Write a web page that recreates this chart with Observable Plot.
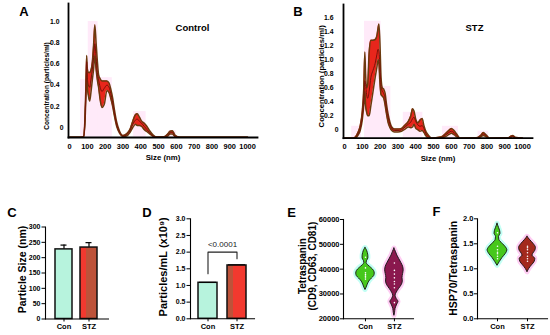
<!DOCTYPE html>
<html><head><meta charset="utf-8">
<script src="https://cdn.jsdelivr.net/npm/d3@7"></script>
<script src="https://cdn.jsdelivr.net/npm/@observablehq/plot@0.6"></script>
<style>
body{margin:0;background:#fff}
#fig{position:relative;width:550px;height:335px;overflow:hidden;background:#fff}
.p{position:absolute}
</style>
</head><body><div id="fig"></div>
<script>
// ---------- Panel A: Control size distribution ----------
const ctlSize = [0,60,78,86,92,96,100,106,113,120,128,135,142,149,156,163,172,182,195,210,222,232,242,252,265,280,300,320,340,355,370,380,392,405,420,435,450,470,490,530,552,565,578,592,620,1000];
const ctlMean = [-0.092,-0.092,-0.09,0.05,0.35,0.62,0.47,0.40,0.38,0.45,0.55,0.66,0.79,0.66,0.52,0.45,0.38,0.34,0.37,0.40,0.38,0.32,0.24,0.14,0.03,-0.04,-0.08,-0.07,-0.03,0.03,0.07,0.08,0.06,0.04,0.01,-0.02,-0.05,-0.08,-0.092,-0.09,-0.07,-0.05,-0.045,-0.08,-0.092,-0.092];
const ctlLo = [-0.092,-0.092,-0.092,0.03,0.30,0.55,0.38,0.30,0.25,0.33,0.45,0.55,0.68,0.55,0.45,0.38,0.26,0.19,0.22,0.35,0.33,0.27,0.20,0.11,0.01,-0.05,-0.085,-0.08,-0.045,0.0,0.03,0.02,0.02,0.01,-0.02,-0.04,-0.06,-0.085,-0.092,-0.092,-0.08,-0.06,-0.06,-0.085,-0.092,-0.092];
const ctlHi = [-0.092,-0.092,-0.088,0.07,0.40,0.68,0.55,0.52,0.52,0.54,0.62,0.78,0.97,0.80,0.63,0.50,0.46,0.44,0.44,0.44,0.42,0.36,0.28,0.17,0.05,-0.03,-0.075,-0.06,-0.015,0.06,0.12,0.13,0.10,0.06,0.04,0.01,-0.03,-0.07,-0.09,-0.088,-0.06,-0.035,-0.03,-0.07,-0.092,-0.092];
const ctlShadeFrom = [62,105,160,360,560];
const ctlShadeTo   = [105,160,240,430,600];
const ctlShadeTop  = [0.45,1.0,0.47,0.15,-0.03];

// ---------- Panel B: STZ size distribution ----------
const stzSize = [0,50,62,75,88,100,108,114,118,124,130,138,148,160,172,182,188,193,198,205,212,220,228,236,245,255,265,280,300,320,340,358,372,382,390,400,412,424,436,446,458,472,490,520,545,565,585,600,615,630,650,740,765,780,795,815,920,935,945,958,1000];
const stzMean = [-0.12,-0.12,-0.11,-0.06,0.02,0.2,0.45,0.7,0.65,0.5,0.45,0.55,0.75,0.85,0.95,1.08,1.15,1.12,0.95,0.62,0.55,0.52,0.45,0.30,0.18,0.08,0.02,-0.01,-0.01,0.0,0.04,0.08,0.11,0.16,0.18,0.12,0.07,0.05,0.06,0.02,-0.06,-0.1,-0.12,-0.12,-0.11,-0.08,-0.04,-0.02,-0.04,-0.08,-0.12,-0.12,-0.09,-0.06,-0.08,-0.12,-0.12,-0.1,-0.09,-0.11,-0.12];
const stzLo = [-0.12,-0.12,-0.12,-0.08,-0.01,0.15,0.35,0.55,0.35,0.25,0.2,0.2,0.35,0.55,0.75,0.9,1.0,0.95,0.7,0.5,0.48,0.45,0.35,0.22,0.1,0.03,-0.01,-0.03,-0.03,-0.02,0.01,0.04,0.03,0.04,0.08,0.02,0.0,-0.02,-0.01,-0.04,-0.09,-0.12,-0.12,-0.12,-0.115,-0.1,-0.07,-0.05,-0.07,-0.1,-0.12,-0.12,-0.1,-0.08,-0.1,-0.12,-0.12,-0.11,-0.1,-0.115,-0.12];
const stzHi = [-0.12,-0.12,-0.10,-0.04,0.06,0.28,0.6,1.11,0.8,0.6,0.65,1.1,1.28,1.28,1.29,1.35,1.45,1.51,1.3,0.75,0.6,0.58,0.52,0.36,0.22,0.11,0.04,0.01,0.01,0.02,0.07,0.12,0.2,0.3,0.27,0.15,0.1,0.14,0.16,0.06,-0.03,-0.08,-0.12,-0.11,-0.1,-0.06,-0.01,0.02,-0.01,-0.06,-0.12,-0.115,-0.08,-0.04,-0.07,-0.12,-0.115,-0.09,-0.08,-0.105,-0.12];
const stzShadeFrom = [40,112,205,330,550,750];
const stzShadeTo   = [95,205,260,440,640,810];
const stzShadeTop  = [0.05,1.55,0.62,0.25,0.05,-0.02];

const sizeTicks = [0,100,200,300,400,500,600,700,800,900,1000];
const ctlYTicks = [0.2,0.4,0.6,0.8,1.0];
const stzYTicks = [0.2,0.4,0.6,0.8,1.0,1.2,1.4,1.6];

// ---------- Panels C and D: bars ----------
const groups = ["Con","STZ"];
const sizeMean = [227, 233];
const sizeSD = [14, 16];
const countMean = [1.08, 1.6];
const countSD = [0.015, 0.02];
const cTicks = [0,50,100,150,200,250,300];
const dTicks = [0,0.5,1.0,1.5,2.0,2.5,3.0];
const bracketLeft = 1.35, bracketTop = 2.0, bracketRight = 1.8, pLabel = "<0.0001";

// ---------- Panels E and F: violins (value, half-width) ----------
const groupPos = [1, 2];
const eConV = [48500,47800,46500,45200,44300,43200,42500,41500,40500,39200,38200,37200,36200,35000,33500,32300,31600];
const eConW = [0,0.04,0.08,0.1,0.1,0.05,0.04,0.1,0.2,0.3,0.32,0.3,0.22,0.13,0.07,0.03,0];
const eStzV = [48300,47000,45500,44000,42500,41000,39500,38000,36500,35000,33500,32000,30500,29300,28000,26800,25800,24000,22200,21200];
const eStzW = [0,0.05,0.1,0.17,0.24,0.3,0.32,0.3,0.28,0.29,0.25,0.16,0.08,0.04,0.08,0.14,0.1,0.04,0.02,0];
const eConPts = [44800,40500,38500,37800,37200,36800,36000];
const eStzPts = [42500,39500,38000,36500,35000,34000,32500,26500];
const eTicks = [20000,30000,40000,50000,60000];

const fConV = [1.9,1.82,1.75,1.70,1.64,1.58,1.5,1.43,1.37,1.3,1.22,1.14,1.06];
const fConW = [0,0.05,0.09,0.1,0.05,0.06,0.17,0.28,0.33,0.28,0.17,0.08,0];
const fStzV = [1.64,1.58,1.5,1.42,1.36,1.3,1.26,1.2,1.14,1.07,1.0,0.93];
const fStzW = [0,0.08,0.2,0.28,0.26,0.19,0.17,0.26,0.24,0.15,0.06,0];
const fConPts = [1.72,1.45,1.38,1.33,1.3,1.25,1.2];
const fStzPts = [1.45,1.42,1.38,1.32,1.25,1.2,1.15];
const fTicks = [0,0.5,1.0,1.5,2.0];

// ---------- helpers ----------
const FONT = "'Liberation Sans', Arial, Helvetica, sans-serif";
const fig = document.getElementById("fig");
function panel(opts, left, top) {
  const svg = Plot.plot({...opts, style: {fontFamily: FONT, fontWeight: "bold", background: "none", overflow: "visible", color: "#000"}});
  const d = document.createElement("div");
  d.className = "p"; d.style.left = left + "px"; d.style.top = top + "px";
  d.appendChild(svg); fig.appendChild(d);
}
const zip4 = (s, m, l, h) => s.map((v, i) => ({size: v, mean: m[i], lo: l[i], hi: h[i]}));
const shades = (a, b, t) => a.map((v, i) => ({from: v, to: b[i], top: t[i]}));
const prof = (v, w, c) => v.map((y, i) => ({v: y, x1: c - w[i], x2: c + w[i]}));
const pts = (arr, c) => arr.map(v => ({g: c, v}));
const curve = "monotone-x";
const yLabel = (s, dx, dy, fontSize, extra = {}) =>
  Plot.text([s], {text: d => d, frameAnchor: "left", rotate: -90, dx, dy, fontSize, textAnchor: "middle", lineAnchor: "middle", ...extra});
const letter = (s, dx, dy) =>
  Plot.text([s], {text: d => d, frameAnchor: "top-left", dx, dy, fontSize: 13, textAnchor: "middle", lineAnchor: "middle"});

function distMarks(data, shade, floor) {
  return [
    Plot.rect(shade, {x1: "from", x2: "to", y1: floor, y2: "top", fill: "#ff8ce0", fillOpacity: 0.18}),
    Plot.areaY(data, {x: "size", y1: "lo", y2: "hi", fill: "#e8261c", curve}),
    Plot.line(data, {x: "size", y: "lo", stroke: "#6b3a0e", strokeWidth: 1.5, curve}),
    Plot.line(data, {x: "size", y: "hi", stroke: "#6b3a0e", strokeWidth: 1.5, curve}),
    Plot.line(data, {x: "size", y: "mean", stroke: "#7a1208", strokeWidth: 1, curve}),
    Plot.frame({anchor: "left", strokeWidth: 1.8}),
    Plot.frame({anchor: "bottom", strokeWidth: 1.8}),
    Plot.axisX({ticks: sizeTicks, tickFormat: d => String(d), tickSize: 0, tickPadding: 6, fontSize: 7.4, label: null}),
    Plot.axisY({ticks: [0], tickFormat: () => "0", tickSize: 0, tickPadding: 5, fontSize: 6.8, label: null}),
    Plot.text(["Size (nm)"], {text: d => d, frameAnchor: "bottom", dy: 20, fontSize: 7.8, lineAnchor: "middle"})
  ];
}

// Panel A
const ctl = zip4(ctlSize, ctlMean, ctlLo, ctlHi);
const ctlFloor = -0.094;
panel({
  width: 275, height: 170, marginLeft: 68, marginRight: 18, marginTop: 3, marginBottom: 33,
  x: {domain: [-6, 1056]}, y: {domain: [ctlFloor, 1.17]},
  marks: [
    ...distMarks(ctl, shades(ctlShadeFrom, ctlShadeTo, ctlShadeTop), ctlFloor),
    Plot.axisY({ticks: ctlYTicks, tickFormat: d => d.toFixed(1), tickSize: 0, tickPadding: 9, fontSize: 6.8, label: null}),
    letter("A", -44.5, 8.5),
    Plot.text(["Control"], {text: d => d, frameAnchor: "top-right", dx: -65, dy: 24, fontSize: 9.5, textAnchor: "middle", lineAnchor: "middle"}),
    yLabel("Concentration (particles/ml)", -21.3, 15.5, 6.6)
  ]
}, 0, 0);

// Panel B
const stz = zip4(stzSize, stzMean, stzLo, stzHi);
const stzFloor = -0.12;
panel({
  width: 275, height: 170, marginLeft: 68, marginRight: 18, marginTop: 4, marginBottom: 32.3,
  x: {domain: [-6, 1056]}, y: {domain: [stzFloor, 1.79]},
  marks: [
    ...distMarks(stz, shades(stzShadeFrom, stzShadeTo, stzShadeTop), stzFloor),
    Plot.axisY({ticks: stzYTicks, tickFormat: d => d.toFixed(1), tickSize: 0, tickPadding: 10, fontSize: 6.8, label: null}),
    letter("B", -45.5, 7.5),
    Plot.text(["STZ"], {text: d => d, frameAnchor: "top-right", dx: -58, dy: 23, fontSize: 9.5, textAnchor: "middle", lineAnchor: "middle"}),
    yLabel("Concentration (particles/ml)", -21.8, 5, 7.7)
  ]
}, 275, 0);

// Panel C
const cData = groups.map((g, i) => ({g, m: sizeMean[i], sd: sizeSD[i]}));
const MINT = "#b7f3dd", RED = "#f2392f", BROWN = "#bd533a";
panel({
  width: 135, height: 145, marginLeft: 45, marginRight: 27, marginTop: 36.5, marginBottom: 16.5,
  x: {domain: groups, paddingInner: 0.31, paddingOuter: 0.367}, y: {domain: [0, 300]},
  marks: [
    Plot.ruleX(cData, {x: "g", y1: "m", y2: d => d.m + d.sd, strokeWidth: 1.2}),
    Plot.tickY(cData, {x: "g", y: d => d.m + d.sd, insetLeft: 5.5, insetRight: 5.5, strokeWidth: 1.2}),
    Plot.barY(cData, {filter: d => d.g === "Con", x: "g", y: "m", fill: MINT}),
    Plot.barY(cData, {filter: d => d.g === "STZ", x: "g", y: "m", fill: RED}),
    Plot.barY(cData, {filter: d => d.g === "STZ", x: "g", y: "m", fill: BROWN, insetLeft: 6}),
    Plot.barY(cData, {x: "g", y: "m", fill: "none", stroke: "#111", strokeWidth: 1.5}),
    Plot.frame({anchor: "left", strokeWidth: 1.1}),
    Plot.frame({anchor: "bottom", strokeWidth: 1.1}),
    Plot.axisY({ticks: cTicks, tickSize: 3.5, tickPadding: 1.5, fontSize: 7, label: null}),
    Plot.axisX({tickSize: 3, tickPadding: 2, fontSize: 7.5, label: null}),
    letter("C", -33.5, -14),
    yLabel("Particle Size (nm)", -23.3, -3.5, 10.5)
  ]
}, 0, 190);

// Panel D
const dData = groups.map((g, i) => ({g, m: countMean[i], sd: countSD[i]}));
const bracket = [
  {g: groups[0], y: bracketLeft}, {g: groups[0], y: bracketTop},
  {g: groups[1], y: bracketTop}, {g: groups[1], y: bracketRight}
];
panel({
  width: 135, height: 145, marginLeft: 55, marginRight: 16, marginTop: 28.3, marginBottom: 16.7,
  x: {domain: groups, paddingInner: 0.36, paddingOuter: 0.265}, y: {domain: [0, 3]},
  marks: [
    Plot.barY(dData, {filter: d => d.g === "Con", x: "g", y: "m", fill: MINT}),
    Plot.barY(dData, {filter: d => d.g === "STZ", x: "g", y: "m", fill: RED}),
    Plot.barY(dData, {filter: d => d.g === "STZ", x: "g", y: "m", fill: BROWN, insetRight: 13}),
    Plot.barY(dData, {x: "g", y: "m", fill: "none", stroke: "#111", strokeWidth: 1.5}),
    Plot.tickY(dData, {x: "g", y: d => d.m + d.sd, insetLeft: 1, insetRight: 1, strokeWidth: 1}),
    Plot.line(bracket, {x: "g", y: "y", stroke: "#222", strokeWidth: 1.1}),
    Plot.text([pLabel], {text: d => d, y: bracketTop, dy: -7.5, fontSize: 8, fontWeight: "normal", lineAnchor: "middle", fill: "#222"}),
    Plot.frame({anchor: "left", strokeWidth: 1.1}),
    Plot.frame({anchor: "bottom", strokeWidth: 1.1}),
    Plot.axisY({ticks: dTicks, tickFormat: d => d.toFixed(1), tickSize: 3.5, tickPadding: 1.5, fontSize: 7, label: null}),
    Plot.axisX({tickSize: 3, tickPadding: 2, fontSize: 7.5, label: null}),
    letter("D", -43.5, -6.3),
    yLabel("Particles/mL (x10⁹)", -27, -2, 11)
  ]
}, 135, 190);

// Violin helper
function violinMarks(con, stzv, conPts, stzPts, stzFill) {
  return [
    Plot.areaX(con, {y: "v", x1: "x1", x2: "x2", fill: "#c2fff4", stroke: "#c2fff4", strokeWidth: 5, curve: "monotone-y"}),
    Plot.areaX(stzv, {y: "v", x1: "x1", x2: "x2", fill: "#ffcdf3", stroke: "#ffcdf3", strokeWidth: 5, curve: "monotone-y"}),
    Plot.areaX(con, {y: "v", x1: "x1", x2: "x2", fill: "#46c81c", stroke: "#111", strokeWidth: 0.9, curve: "monotone-y"}),
    Plot.areaX(stzv, {y: "v", x1: "x1", x2: "x2", fill: stzFill, stroke: "#111", strokeWidth: 0.9, curve: "monotone-y"}),
    Plot.dot(conPts, {x: "g", y: "v", r: 0.8, fill: "#fff"}),
    Plot.dot(stzPts, {x: "g", y: "v", r: 0.8, fill: "#fff"}),
    Plot.frame({anchor: "left", strokeWidth: 1.1}),
    Plot.frame({anchor: "bottom", strokeWidth: 1.1}),
    Plot.axisX({ticks: groupPos, tickFormat: d => groups[d - 1], tickSize: 3, tickPadding: 2, fontSize: 7.5, label: null})
  ];
}

// Panel E
panel({
  width: 140, height: 145, marginLeft: 68, marginRight: 2, marginTop: 29, marginBottom: 16.7,
  x: {domain: [0.24, 2.66]}, y: {domain: [20000, 60000]},
  marks: [
    ...violinMarks(prof(eConV, eConW, groupPos[0]), prof(eStzV, eStzW, groupPos[1]), pts(eConPts, groupPos[0]), pts(eStzPts, groupPos[1]), "#8a184e"),
    Plot.axisY({ticks: eTicks, tickFormat: d => String(d), tickSize: 3, tickPadding: 1, fontSize: 7.5, label: null}),
    letter("E", -52, -7),
    yLabel("Tetraspanin\n(CD9, CD63, CD81)", -35.5, -3, 10, {lineHeight: 1.0})
  ]
}, 275, 190);

// Panel F
panel({
  width: 135, height: 145, marginLeft: 62, marginRight: 3, marginTop: 28.3, marginBottom: 16.7,
  x: {domain: [0.333, 2.667]}, y: {domain: [0, 2]},
  marks: [
    ...violinMarks(prof(fConV, fConW, groupPos[0]), prof(fStzV, fStzW, groupPos[1]), pts(fConPts, groupPos[0]), pts(fStzPts, groupPos[1]), "#a3291d"),
    Plot.axisY({ticks: fTicks, tickFormat: d => d.toFixed(1), tickSize: 3, tickPadding: 1, fontSize: 7.5, label: null}),
    letter("F", -41, -7),
    yLabel("HSP70/Tetraspanin", -23.5, -0.5, 10.5)
  ]
}, 415, 190);
</script>
</body></html>
